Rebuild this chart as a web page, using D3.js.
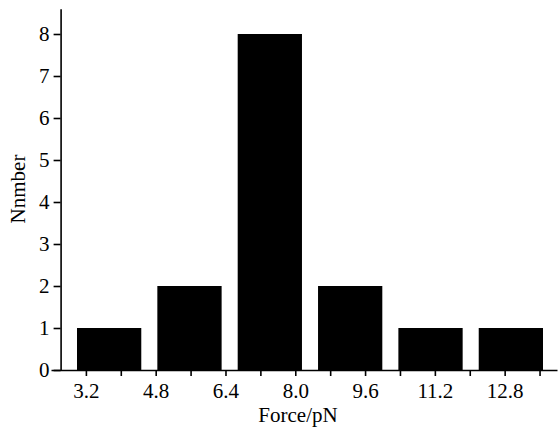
<!DOCTYPE html>
<html>
<head>
<meta charset="utf-8">
<script src="https://cdn.jsdelivr.net/npm/d3@7"></script>
<style>
  body { margin: 0; background: #fff; }
</style>
</head>
<body>
<div id="chart"><svg></svg></div>
<script>
var width = 559,
    height = 428;
var fontFamily = "'Liberation Serif', 'Times New Roman', Times, 'DejaVu Serif', serif";

// histogram of rupture forces
var bins = ["b1", "b2", "b3", "b4", "b5", "b6"];
var counts = [1, 2, 8, 2, 1, 1];

// axis ticks
var xTicks = [3.2, 4.0, 4.8, 5.6, 6.4, 7.2, 8.0, 8.8, 9.6, 10.4, 11.2, 12.0, 12.8, 13.6];
var xLabels = [3.2, 4.8, 6.4, 8.0, 9.6, 11.2, 12.8];
var yTicks = [0, 1, 2, 3, 4, 5, 6, 7, 8];

var svg = d3.select("#chart svg")
  .attr("width", width)
  .attr("height", height);

// axis scale for the force values
var x = d3.scaleLinear()
  .domain([2.4, 14.0])
  .range([51, 557]);

// bars sit on their own band scale
var xBand = d3.scaleBand()
  .domain(bins)
  .range([77, 543])
  .paddingInner(0.2)
  .paddingOuter(0);

var y = d3.scaleLinear()
  .domain([0, 8.6])
  .range([370, 8.8]);

// bars
svg.append("g")
    .attr("class", "bars")
  .selectAll("rect")
    .data(counts)
  .enter().append("rect")
    .attr("x", function (d, i) { return xBand(bins[i]); })
    .attr("width", xBand.bandwidth())
    .attr("y", function (d) { return y(d); })
    .attr("height", function (d) { return y(0) - y(d); })
    .attr("fill", "#000");

// x axis
var xAxis = svg.append("g")
  .attr("transform", "translate(0," + y(0) + ")")
  .call(d3.axisBottom(x)
    .tickValues(xTicks)
    .tickSize(6)
    .tickSizeOuter(0)
    .tickPadding(7)
    .tickFormat(function (d) {
      return xLabels.some(function (v) { return Math.abs(v - d) < 1e-6; }) ? d3.format(".1f")(d) : "";
    }));

// y axis
var yAxis = svg.append("g")
  .attr("transform", "translate(" + x(2.62) + ",0)")
  .call(d3.axisLeft(y)
    .tickValues(yTicks)
    .tickSize(7)
    .tickSizeOuter(0)
    .tickPadding(4)
    .tickFormat(d3.format("d")));

[xAxis, yAxis].forEach(function (g) {
  g.attr("font-size", 21).attr("font-family", fontFamily);
  g.selectAll("path, line").attr("stroke", "#000").attr("stroke-width", 1.6);
  g.selectAll("text").attr("fill", "#000");
});

// axis titles
svg.append("text")
  .attr("x", 298)
  .attr("y", 422)
  .attr("text-anchor", "middle")
  .attr("font-family", fontFamily)
  .attr("font-size", 21)
  .text("Force/pN");

svg.append("text")
  .attr("transform", "translate(25,189) rotate(-90)")
  .attr("text-anchor", "middle")
  .attr("font-family", fontFamily)
  .attr("font-size", 21)
  .text("Nnmber");
</script>
</body>
</html>
